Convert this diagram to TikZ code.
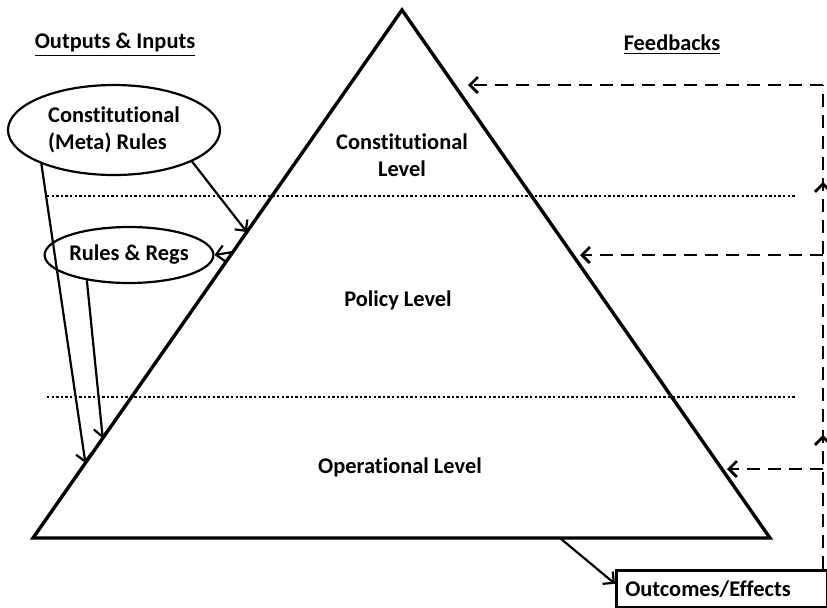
\documentclass[tikz,border=0pt]{standalone}
\usepackage{fontspec}
\setmainfont{Carlito}[Ligatures=NoCommon]
\usetikzlibrary{shapes.geometric,arrows.meta,calc,decorations.markings}

\begin{document}
\begin{tikzpicture}[x=0.5pt,y=-0.5pt,
    font=\fontsize{11.2}{13.5}\selectfont\bfseries,
    arr/.style={line width=1.1pt,-{Straight Barb[length=4pt,width=8pt]}},
    fb/.style={line width=1.4pt,dash pattern=on 6.5pt off 4pt},
    lvl/.style={align=center},
    oval/.style={draw,ellipse,line width=1.1pt,inner sep=0pt}]
\useasboundingbox (0,0) rectangle (827,607);

    % pyramid
    \coordinate (apex) at (402,10);
    \coordinate (bl) at (33,538);
    \coordinate (br) at (770,538);
    \draw[line width=1.7pt,line join=miter] (bl) -- (apex) -- (br) -- cycle;
    \draw[line width=1.3pt,dash pattern=on 1.2pt off 1.1pt] (47,196) -- (795,196);
    \draw[line width=1.3pt,dash pattern=on 1.2pt off 1.1pt] (47,397) -- (795,397);

    \node[lvl] (cl) at (402,155) {Constitutional\\Level};
    \node[lvl] (pl) at (398,300) {Policy Level};
    \node[lvl] (ol) at (400,467) {Operational Level};

    % headings
    \node (oi) at (115,45) {\underline{Outputs \& Inputs}};
    \node (fbk) at (672,45) {\underline{Feedbacks}};

    % outputs and inputs
    \node[oval,minimum width=106pt,minimum height=45pt,align=left] (meta) at (114,130) {Constitutional\\(Meta) Rules\hspace*{6pt}};
    \node[oval,minimum width=74pt,minimum height=28pt] (rr) at (129,255) {Rules \& Regs};
    \node[draw,line width=1.3pt,anchor=north west,inner xsep=4.5pt,text width=96.5pt,minimum height=18.5pt,align=left] (out) at (615,569) {Outcomes/Effects};

    \coordinate (e1) at ($(bl)!0.5795!(apex)$);
    \coordinate (e2) at ($(bl)!0.5417!(apex)$);
    \coordinate (e3) at ($(bl)!0.189!(apex)$);
    \coordinate (e4) at ($(bl)!0.142!(apex)$);
    \coordinate (b1) at ($(bl)!0.715!(br)$);

    \draw[arr] (meta.-22) -- (e1);
    \draw[arr] (e2) -- (rr.east);
    \draw[arr] (meta.205) -- (e4);
    \draw[arr] (rr.211) -- (e3);
    \draw[arr] (b1) -- ($(out.west)+(0,-5)$);

    % feedbacks
    \coordinate (c0) at (823,569);
    \coordinate (c1) at (823,85);
    \coordinate (c2) at (823,255);
    \coordinate (c3) at (823,469);
    \coordinate (f1) at (468,85);
    \coordinate (f2) at (580,255);
    \coordinate (f3) at (727,469);
\begin{scope}[decoration={
    markings,
    mark=at position 0.277 with {\arrow{Straight Barb[length=4pt,width=8pt]}},
    mark=at position 0.80 with {\arrow{Straight Barb[length=4pt,width=8pt]}}}
    ]
    \draw[fb,postaction={decorate}] (c0) -- (c1);
\end{scope}
    \draw[fb,-{Straight Barb[length=4pt,width=8pt]}] (c1) -- (f1);
    \draw[fb,-{Straight Barb[length=4pt,width=8pt]}] (c2) -- (f2);
    \draw[fb,-{Straight Barb[length=4pt,width=8pt]}] (c3) -- (f3);
\end{tikzpicture}
\end{document}
